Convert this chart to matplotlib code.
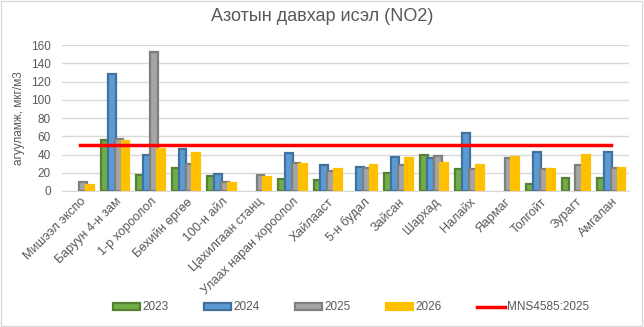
import numpy as np
import matplotlib.pyplot as plt
from matplotlib.patches import Rectangle

plt.rcParams['font.family'] = ['Liberation Sans', 'DejaVu Sans']

stations = ['Мишээл экспо', 'Баруун 4-н зам', '1-р хороолол', 'Бөхийн өргөө',
            '100-н айл', 'Цахилгаан станц', 'Улаах наран хороолол', 'Хайлааст',
            '5-н будал', 'Зайсан', 'Шархад', 'Налайх', 'Яармаг', 'Толгойт',
            'Зурагт', 'Амгалан']
# Excel leaves gaps for missing years -> nan
v2023 = [np.nan, 56, 17, 25, 16, np.nan, 13, 12, np.nan, 20, 40, 24, np.nan, 8, 14, 14]
v2024 = [np.nan, 128, 40, 46, 19, np.nan, 42, 29, 26, 37, 36, 64, np.nan, 43, np.nan, 43]
v2025 = [10, 57, 152, 30, 10, 17, 31, 22, 25, 29, 38, 24, 36, 24, 29, 25]
v2026 = [6, 55, 46, 42, 9, 15, 30, 24, 29, 36, 31, 28, 37, 24, 39, 25]
norm_name = 'MNS4585:2025'
norm_value = 50

series = [
    ('2023', v2023, '#70AD47', '#548235'),
    ('2024', v2024, '#5B9BD5', '#41719C'),
    ('2025', v2025, '#A5A5A5', '#7F7F7F'),
    ('2026', v2026, '#FFC000', '#FFC000'),
]

fig = plt.figure(figsize=(6.44, 3.27), dpi=100)
ax = fig.add_axes([0.0963, 0.416, 0.8804, 0.446])

x = np.arange(len(stations))
width = 0.22
offsets = [-0.29, -0.1, 0.1, 0.29]
for (label, vals, face, edge), off in zip(series, offsets):
    ax.bar(x + off, vals, width, color=face, edgecolor=edge, linewidth=1.6,
           label=label, zorder=3)

ax.plot(x, [norm_value] * len(stations), color='#FF0000', linewidth=2.5,
        label=norm_name, zorder=4)

ax.set_xlim(-0.5, len(stations) - 0.5)
ax.set_ylim(0, 160)
ax.set_yticks(range(0, 161, 20))
ax.grid(axis='y', color='#D9D9D9', linewidth=1, zorder=0)
for s in ['top', 'right', 'left']:
    ax.spines[s].set_visible(False)
ax.spines['bottom'].set_color('#D9D9D9')
ax.tick_params(length=0, labelsize=8.5, labelcolor='#595959')
ax.tick_params(axis='y', pad=8)
ax.set_xticks(x)
ax.set_xticklabels(stations, rotation=45, ha='right', rotation_mode='anchor',
                   fontsize=9)
ax.set_ylabel('агууламж, мкг/м3', fontsize=8.5, color='#595959', labelpad=4)

fig.suptitle('Азотын давхар исэл (NO2)', x=0.5, y=0.975, fontsize=13,
             color='#595959')

# bars first, standard line last (as in the Excel legend)
handles, labels = ax.get_legend_handles_labels()
handles = handles[1:] + handles[:1]
labels = labels[1:] + labels[:1]
ax.legend(handles, labels, loc='center', bbox_to_anchor=(0.545, 0.06),
          bbox_transform=fig.transFigure, ncol=5, frameon=False, fontsize=8.5,
          handlelength=2.3, handleheight=0.55, columnspacing=3.0,
          handletextpad=0.2, labelcolor='#595959')

fig.patches.append(Rectangle((0.002, 0.003), 0.995, 0.994, transform=fig.transFigure,
                             fill=False, edgecolor='#D9D9D9', linewidth=1))

fig.savefig('out.png', dpi=100)
